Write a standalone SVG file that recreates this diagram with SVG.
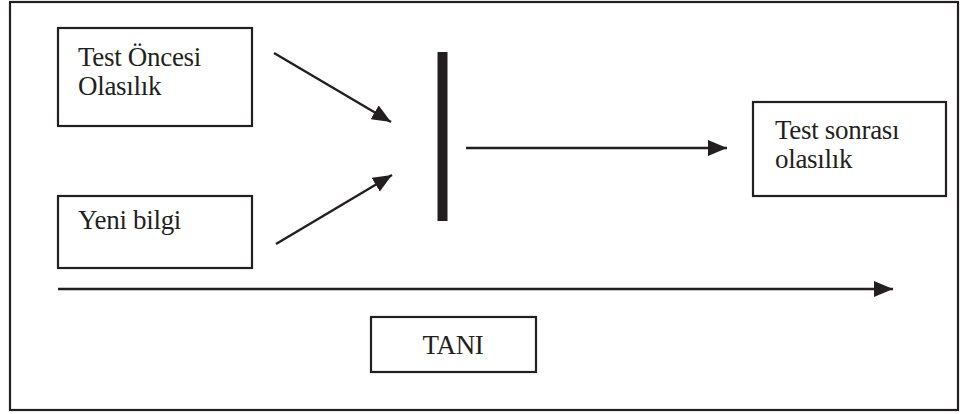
<svg xmlns="http://www.w3.org/2000/svg" width="961" height="414" viewBox="0 0 961 414">
  <style>
    .box { fill: #ffffff; stroke: #231f20; stroke-width: 2.2; }
    .lbl { font-family: "Liberation Serif", "Times New Roman", serif; font-size: 27px; letter-spacing: -0.3px; fill: #231f20; }
    .link { stroke: #231f20; stroke-width: 2.4; fill: none; marker-end: url(#head); }
  </style>
  <defs>
    <marker id="head" markerUnits="userSpaceOnUse" markerWidth="20" markerHeight="16" refX="19" refY="8" orient="auto">
      <path d="M0,0 L19,8 L0,16 Z" fill="#231f20"/>
    </marker>
  </defs>

  <rect width="961" height="414" fill="#ffffff"/>
  <!-- outer frame -->
  <rect x="10" y="2" width="948" height="408" fill="none" stroke="#231f20" stroke-width="2.2"/>

  <g id="test-oncesi">
    <rect class="box" x="58" y="28" width="194" height="98"/>
    <text class="lbl" x="78" y="66">Test Öncesi</text>
    <text class="lbl" x="78" y="95">Olasılık</text>
  </g>

  <g id="yeni-bilgi">
    <rect class="box" x="58" y="196" width="194" height="72"/>
    <text class="lbl" x="78" y="229">Yeni bilgi</text>
  </g>

  <g id="bar">
    <rect x="437.5" y="52" width="10" height="169" fill="#231f20"/>
  </g>

  <g id="test-sonrasi">
    <rect class="box" x="753" y="102" width="193" height="94"/>
    <text class="lbl" x="775" y="139">Test sonrası</text>
    <text class="lbl" x="775" y="168">olasılık</text>
  </g>

  <g id="tani">
    <rect class="box" x="371" y="317" width="165" height="55"/>
    <text class="lbl" x="453" y="354" text-anchor="middle">TANI</text>
  </g>

  <g id="connectors">
    <line class="link" x1="274" y1="53" x2="391" y2="122"/>
    <line class="link" x1="276" y1="244" x2="392" y2="175"/>
    <line class="link" x1="466" y1="148" x2="727" y2="148"/>
    <line class="link" x1="58" y1="289" x2="893" y2="289"/>
  </g>
</svg>
